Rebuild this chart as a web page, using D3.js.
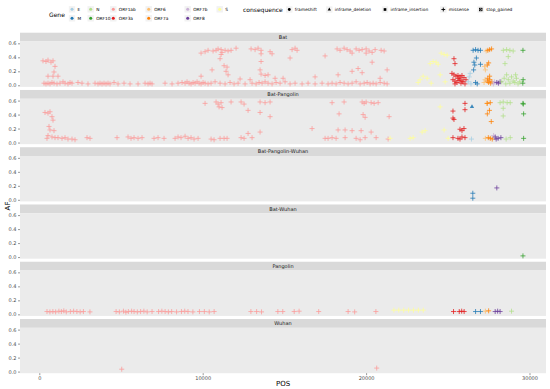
<!DOCTYPE html>
<html><head><meta charset="utf-8">
<script src="https://cdn.jsdelivr.net/npm/d3@7"></script>
<style>body{margin:0;background:#fff}svg{display:block}text{font-family:"DejaVu Sans",sans-serif}</style>
</head><body><svg id="c" width="550" height="389"></svg>
<script>
const facets = ["Bat","Bat-Pangolin","Bat-Pangolin-Wuhan","Bat-Wuhan","Pangolin","Wuhan"];
const genes = ["E","M","N","ORF10","ORF1ab","ORF3a","ORF6","ORF7a","ORF7b","ORF8","S"];
const geneColors = ["#A6CEE3","#1F78B4","#B2DF8A","#33A02C","#FB9A99","#E31A1C","#FDBF6F","#FF7F00","#CAB2D6","#6A3D9A","#FFFF99"];
const consequences = ["frameshift","inframe_deletion","inframe_insertion","missense","stop_gained"];
const xTicks = [0,10000,20000,30000];
const yTicks = [0,0.2,0.4,0.6];

// [POS, AF, gene, consequence?]  (consequence defaults to missense)
const batPts = [
 [226,0.35,"ORF1ab"],[410,0.34,"ORF1ab"],[533,0.36,"ORF1ab"],[716,0.33,"ORF1ab"],[839,0.35,"ORF1ab"],[961,0.27,"ORF1ab"],[900,0.19,"ORF1ab"],[839,0.13,"ORF1ab"],[533,0.13,"ORF1ab"],[1145,0.13,"ORF1ab"],
 [288,0.03,"ORF1ab"],[410,0.02,"ORF1ab"],[533,0.03,"ORF1ab"],[655,0.02,"ORF1ab"],[777,0.04,"ORF1ab"],[900,0.03,"ORF1ab"],[1084,0.02,"ORF1ab"],[1267,0.03,"ORF1ab"],[1451,0.05,"ORF1ab"],[1574,0.03,"ORF1ab"],[1757,0.02,"ORF1ab"],[1880,0.04,"ORF1ab"],[2002,0.03,"ORF1ab"],[2369,0.04,"ORF1ab"],[2614,0.03,"ORF1ab"],[2981,0.02,"ORF1ab"],[3410,0.03,"ORF1ab"],[3594,0.02,"ORF1ab"],[3716,0.03,"ORF1ab"],[3839,0.02,"ORF1ab"],[3961,0.03,"ORF1ab"],[4084,0.02,"ORF1ab"],[4206,0.03,"ORF1ab"],[4328,0.02,"ORF1ab"],[4573,0.04,"ORF1ab"],[4818,0.02,"ORF1ab"],[5185,0.03,"ORF1ab"],[5553,0.02,"ORF1ab"],[6043,0.02,"ORF1ab"],[6471,0.03,"ORF1ab"],[6655,0.02,"ORF1ab"],[6777,0.03,"ORF1ab"],[6900,0.02,"ORF1ab"],[7695,0.03,"ORF1ab"],[8124,0.02,"ORF1ab"],[8491,0.03,"ORF1ab"],[8736,0.04,"ORF1ab"],[8920,0.03,"ORF1ab"],[9042,0.05,"ORF1ab"],[9165,0.03,"ORF1ab"],[9287,0.02,"ORF1ab"],[9410,0.04,"ORF1ab"],[9532,0.03,"ORF1ab"],[9655,0.05,"ORF1ab"],[9777,0.03,"ORF1ab"],[9899,0.02,"ORF1ab"],[10022,0.04,"ORF1ab"],[10144,0.03,"ORF1ab"],[10328,0.02,"ORF1ab"],[10512,0.03,"ORF1ab"],[10756,0.05,"ORF1ab"],[11062,0.03,"ORF1ab"],[11368,0.02,"ORF1ab"],[11674,0.04,"ORF1ab"],[11919,0.02,"ORF1ab"],[12164,0.03,"ORF1ab"],[12593,0.02,"ORF1ab"],[13021,0.03,"ORF1ab"],[13266,0.02,"ORF1ab"],[13450,0.04,"ORF1ab"],[13633,0.03,"ORF1ab"],[13817,0.05,"ORF1ab"],[14001,0.03,"ORF1ab"],[14246,0.02,"ORF1ab"],[14491,0.04,"ORF1ab"],[14735,0.03,"ORF1ab"],[15041,0.05,"ORF1ab"],[15347,0.02,"ORF1ab"],[15653,0.03,"ORF1ab"],[16082,0.02,"ORF1ab"],[16449,0.03,"ORF1ab"],[16878,0.02,"ORF1ab"],[17306,0.03,"ORF1ab"],[17673,0.02,"ORF1ab"],[17918,0.03,"ORF1ab"],[18163,0.02,"ORF1ab"],[18408,0.04,"ORF1ab"],[18653,0.03,"ORF1ab"],[18898,0.02,"ORF1ab"],[19143,0.03,"ORF1ab"],[19388,0.05,"ORF1ab"],[19633,0.02,"ORF1ab"],[19878,0.03,"ORF1ab"],[20062,0.04,"ORF1ab"],[20245,0.02,"ORF1ab"],[20429,0.03,"ORF1ab"],[20613,0.02,"ORF1ab"],[20858,0.04,"ORF1ab"],[21103,0.03,"ORF1ab"],[21286,0.02,"ORF1ab"],
 [9899,0.46,"ORF1ab"],[10144,0.48,"ORF1ab"],[10328,0.50,"ORF1ab"],[10634,0.49,"ORF1ab"],[10818,0.50,"ORF1ab"],[10940,0.52,"ORF1ab"],[11124,0.51,"ORF1ab"],[11185,0.47,"ORF1ab"],[11368,0.50,"ORF1ab"],[11552,0.49,"ORF1ab"],[11736,0.50,"ORF1ab"],[11124,0.44,"ORF1ab"],[12042,0.53,"ORF1ab"],[11062,0.38,"ORF1ab"],
 [12960,0.52,"ORF1ab"],[13205,0.51,"ORF1ab"],[13388,0.53,"ORF1ab"],[13572,0.50,"ORF1ab"],[14123,0.48,"ORF1ab"],[14246,0.45,"ORF1ab"],[13572,0.45,"ORF1ab"],
 [15470,0.51,"ORF1ab"],[15653,0.53,"ORF1ab"],[15776,0.50,"ORF1ab"],[15347,0.39,"ORF1ab"],[17490,0.42,"ORF1ab"],
 [18225,0.52,"ORF1ab"],[18408,0.50,"ORF1ab"],[18653,0.53,"ORF1ab"],[18837,0.51,"ORF1ab"],[19021,0.49,"ORF1ab"],[19143,0.46,"ORF1ab"],[19388,0.52,"ORF1ab"],[19572,0.50,"ORF1ab"],[19756,0.51,"ORF1ab"],[20001,0.52,"ORF1ab"],[20184,0.49,"ORF1ab"],[20368,0.47,"ORF1ab"],[20552,0.51,"ORF1ab"],[20919,0.50,"ORF1ab"],[21103,0.49,"ORF1ab"],[20001,0.46,"ORF1ab"],[20368,0.33,"ORF1ab"],[21286,0.22,"ORF1ab"],
 [10573,0.22,"ORF1ab"],[9899,0.13,"ORF1ab"],[11307,0.28,"ORF1ab"],[11491,0.26,"ORF1ab"],[11429,0.20,"ORF1ab"],[11552,0.15,"ORF1ab"],[13572,0.34,"ORF1ab"],[13511,0.22,"ORF1ab"],[13572,0.16,"ORF1ab"],[13817,0.14,"ORF1ab"],[14001,0.15,"ORF1ab"],[14429,0.10,"ORF1ab"],[14919,0.10,"ORF1ab"],[16878,0.12,"ORF1ab"],[18286,0.15,"ORF1ab"],[19143,0.20,"ORF1ab"],[19510,0.24,"ORF1ab"],[19756,0.18,"ORF1ab"],[20858,0.10,"ORF1ab"],[12899,0.08,"ORF1ab"],[12287,0.09,"ORF1ab"],
 [23490,0.13,"S"],[23306,0.08,"S"],[23735,0.10,"S"],[23184,0.04,"S"],[23980,0.03,"S"],[24102,0.34,"S"],[23919,0.31,"S"],[24286,0.33,"S"],[24409,0.30,"S"],[24592,0.46,"S"],[24776,0.44,"S"],[24960,0.43,"S"],[24531,0.15,"S"],[24837,0.05,"S"],
 [25378,0.38,"ORF3a"],[25440,0.31,"ORF3a"],[25256,0.17,"ORF3a"],[25378,0.15,"ORF3a"],[25501,0.13,"ORF3a"],[25623,0.10,"ORF3a"],[25746,0.12,"ORF3a"],[25868,0.14,"ORF3a"],[25990,0.11,"ORF3a"],[25317,0.08,"ORF3a"],[25440,0.06,"ORF3a"],[25562,0.04,"ORF3a"],[25684,0.07,"ORF3a"],[25807,0.03,"ORF3a"],[25929,0.05,"ORF3a"],[26052,0.02,"ORF3a"],[25440,0.02,"ORF3a"],[25746,0.09,"ORF3a"],[25868,0.06,"ORF3a"],[26113,0.08,"ORF3a"],[25623,0.14,"ORF3a"],
 [26250,0.05,"E"],[26310,0.12,"E"],[26370,0.17,"E"],[26420,0.02,"E"],
 [26550,0.50,"M"],[26700,0.51,"M"],[26850,0.50,"M"],[27000,0.50,"M"],[26600,0.33,"M"],[26750,0.39,"M"],[27000,0.30,"M"],[26580,0.22,"M"],[26700,0.04,"M"],[26800,0.02,"M"],[26650,0.29,"M"],
 [27250,0.27,"ORF6"],[27300,0.22,"ORF6"],[27350,0.49,"ORF6"],[27280,0.08,"ORF6"],[27220,0.04,"ORF6"],
 [27450,0.50,"ORF7a"],[27560,0.51,"ORF7a"],[27680,0.52,"ORF7a"],[27500,0.32,"ORF7a"],[27420,0.29,"ORF7a"],[27450,0.10,"ORF7a"],[27560,0.08,"ORF7a"],[27500,0.04,"ORF7a"],[27620,0.03,"ORF7a"],[27420,0.06,"ORF7a"],[27700,0.05,"ORF7a"],[27560,0.13,"ORF7a"],
 [27790,0.02,"ORF7b"],[27850,0.05,"ORF7b"],
 [28000,0.04,"ORF8"],[28100,0.03,"ORF8"],[28200,0.05,"ORF8"],
 [28400,0.50,"N"],[28600,0.51,"N"],[28800,0.50,"N"],[29000,0.49,"N"],[28700,0.41,"N"],[28500,0.31,"N"],[28300,0.05,"N"],[28450,0.10,"N"],[28600,0.15,"N"],[28700,0.08,"N"],[28800,0.03,"N"],[28900,0.12,"N"],[29000,0.06,"N"],[29100,0.04,"N"],[29200,0.10,"N"],[29300,0.02,"N"],[29400,0.05,"N"],[28550,0.02,"N"],[29150,0.15,"N"],
 [29600,0.50,"ORF10"],[29610,0.08,"ORF10"],[29590,0.03,"ORF10"]
];
const batPangolinPts = [
 [349,0.43,"ORF1ab"],[533,0.42,"ORF1ab"],[655,0.44,"ORF1ab"],[777,0.37,"ORF1ab"],[839,0.32,"ORF1ab"],[594,0.23,"ORF1ab"],[655,0.18,"ORF1ab"],[900,0.17,"ORF1ab"],[533,0.10,"ORF1ab"],[471,0.06,"ORF1ab"],[777,0.08,"ORF1ab"],[961,0.07,"ORF1ab"],[1145,0.07,"ORF1ab"],[1390,0.06,"ORF1ab"],[1574,0.07,"ORF1ab"],[1757,0.05,"ORF1ab"],[2002,0.05,"ORF1ab"],[2186,0.04,"ORF1ab"],[2920,0.07,"ORF1ab"],[3104,0.06,"ORF1ab"],
 [4757,0.07,"ORF1ab"],[5430,0.08,"ORF1ab"],[5614,0.06,"ORF1ab"],[5798,0.07,"ORF1ab"],[6043,0.06,"ORF1ab"],[6288,0.07,"ORF1ab"],[7022,0.06,"ORF1ab"],[7267,0.07,"ORF1ab"],[7634,0.06,"ORF1ab"],[8308,0.06,"ORF1ab"],[8491,0.08,"ORF1ab"],[8675,0.07,"ORF1ab"],[8920,0.09,"ORF1ab"],[9104,0.06,"ORF1ab"],[9287,0.07,"ORF1ab"],[9471,0.05,"ORF1ab"],[9716,0.06,"ORF1ab"],[10512,0.05,"ORF1ab"],[10695,0.04,"ORF1ab"],[11062,0.06,"ORF1ab"],[11307,0.06,"ORF1ab"],[11491,0.06,"ORF1ab"],[12348,0.07,"ORF1ab"],[12532,0.06,"ORF1ab"],[13021,0.07,"ORF1ab"],[12777,0.13,"ORF1ab"],[13511,0.15,"ORF1ab"],
 [10144,0.56,"ORF1ab"],[10818,0.58,"ORF1ab"],[10940,0.55,"ORF1ab"],[11124,0.57,"ORF1ab"],[11001,0.51,"ORF1ab"],[11185,0.50,"ORF1ab"],[11736,0.58,"ORF1ab"],[12348,0.58,"ORF1ab"],[12532,0.55,"ORF1ab"],[12777,0.46,"ORF1ab"],[13511,0.58,"ORF1ab"],[13817,0.57,"ORF1ab"],[14123,0.58,"ORF1ab"],[13511,0.43,"ORF1ab"],[14123,0.37,"ORF1ab"],
 [16694,0.20,"ORF1ab"],
 [17490,0.06,"ORF1ab"],[17673,0.06,"ORF1ab"],[17918,0.07,"ORF1ab"],[18163,0.06,"ORF1ab"],[18347,0.41,"ORF1ab"],[17918,0.57,"ORF1ab"],[18653,0.58,"ORF1ab"],[18286,0.18,"ORF1ab"],[18715,0.18,"ORF1ab"],[19143,0.17,"ORF1ab"],[19694,0.17,"ORF1ab"],[19388,0.06,"ORF1ab"],[19633,0.04,"ORF1ab"],[19756,0.58,"ORF1ab"],[19878,0.56,"ORF1ab"],[20001,0.58,"ORF1ab"],[19817,0.40,"ORF1ab"],[19939,0.36,"ORF1ab"],[20307,0.57,"ORF1ab"],[20490,0.56,"ORF1ab"],[20736,0.57,"ORF1ab"],[20307,0.15,"ORF1ab"],[20613,0.07,"ORF1ab"],[19939,0.07,"ORF1ab"],[21409,0.37,"ORF1ab"],[21348,0.05,"ORF1ab"],[18715,0.07,"ORF1ab"],
 [21470,0.06,"S"],[22694,0.06,"S"],[22878,0.07,"S"],[23429,0.15,"S"],[23612,0.17,"S"],[24531,0.51,"S"],[24776,0.18,"S"],[25021,0.06,"S"],
 [26052,0.56,"ORF3a"],[26052,0.47,"ORF3a"],[25317,0.45,"ORF3a"],[25317,0.35,"ORF3a"],[25378,0.33,"ORF3a"],[25746,0.19,"ORF3a"],[25990,0.20,"ORF3a"],[25868,0.17,"ORF3a"],[25317,0.07,"ORF3a"],[25623,0.06,"ORF3a"],[25868,0.08,"ORF3a"],[26052,0.07,"ORF3a"],[25746,0.05,"ORF3a"],
 [26450,0.05,"E"],
 [26480,0.51,"M","inframe_deletion"],
 [27380,0.56,"ORF6"],[27300,0.06,"ORF6"],
 [27420,0.56,"ORF7a"],[27600,0.57,"ORF7a"],[27550,0.46,"ORF7a"],[27420,0.41,"ORF7a"],[27660,0.30,"ORF7a"],[27480,0.07,"ORF7a"],[27600,0.06,"ORF7a"],[27720,0.05,"ORF7a"],
 [27800,0.10,"ORF7b"],
 [27900,0.08,"ORF8"],[28080,0.06,"ORF8"],[28250,0.07,"ORF8"],[27960,0.05,"ORF8"],
 [28200,0.57,"N"],[28390,0.58,"N"],[28630,0.57,"N"],[28820,0.57,"N"],[28390,0.49,"N"],[28390,0.38,"N"],[28570,0.05,"N"],[28820,0.07,"N"],
 [29600,0.56,"ORF10"],[29620,0.55,"ORF10"],[29640,0.41,"ORF10"],[29640,0.06,"ORF10"]
];
const batPangolinWuhanPts = [
 [26530,0.094,"M"],[26530,0.023,"M"],[28000,0.17,"ORF8"]
];
const batWuhanPts = [
 [29600,0.017,"ORF10"]
];
const pangolinPts = [
 [471,0.04,"ORF1ab"],[650,0.035,"ORF1ab"],[830,0.04,"ORF1ab"],[1000,0.035,"ORF1ab"],[1200,0.045,"ORF1ab"],[1350,0.04,"ORF1ab"],[1500,0.05,"ORF1ab"],[1650,0.035,"ORF1ab"],[1900,0.04,"ORF1ab"],[2100,0.045,"ORF1ab"],[2300,0.04,"ORF1ab"],[2500,0.035,"ORF1ab"],[2700,0.04,"ORF1ab"],[3100,0.035,"ORF1ab"],
 [4700,0.04,"ORF1ab"],[4900,0.035,"ORF1ab"],[5150,0.045,"ORF1ab"],[5300,0.03,"ORF1ab"],[5450,0.04,"ORF1ab"],[5650,0.045,"ORF1ab"],[5800,0.04,"ORF1ab"],[6000,0.035,"ORF1ab"],[6200,0.04,"ORF1ab"],[6400,0.045,"ORF1ab"],[6600,0.035,"ORF1ab"],[6900,0.04,"ORF1ab"],[7300,0.04,"ORF1ab"],[7500,0.045,"ORF1ab"],[7700,0.04,"ORF1ab"],[7900,0.035,"ORF1ab"],[8100,0.04,"ORF1ab"],[8400,0.035,"ORF1ab"],[8700,0.04,"ORF1ab"],[8900,0.045,"ORF1ab"],[9100,0.04,"ORF1ab"],[9400,0.035,"ORF1ab"],[9800,0.04,"ORF1ab"],[10100,0.04,"ORF1ab"],[10400,0.035,"ORF1ab"],[10700,0.04,"ORF1ab"],
 [12950,0.04,"ORF1ab"],[13300,0.04,"ORF1ab"],[13600,0.035,"ORF1ab"],[14600,0.04,"ORF1ab"],[14900,0.04,"ORF1ab"],[15600,0.04,"ORF1ab"],[15900,0.045,"ORF1ab"],[17100,0.04,"ORF1ab"],[18900,0.04,"ORF1ab"],[19300,0.035,"ORF1ab"],[20600,0.04,"ORF1ab"],
 [21700,0.06,"S"],[22000,0.06,"S"],[22300,0.06,"S"],[22600,0.06,"S"],[22900,0.06,"S"],[23200,0.06,"S"],[23500,0.06,"S"],
 [25350,0.04,"ORF3a"],[25700,0.04,"ORF3a"],[25850,0.045,"ORF3a"],[26000,0.04,"ORF3a"],
 [26700,0.04,"M"],[27000,0.04,"M"],[27300,0.045,"ORF6"],[27500,0.05,"ORF7a"],[27900,0.04,"ORF8"],[28050,0.045,"ORF8"],[28200,0.04,"ORF8"],
 [28900,0.045,"N"]
];
const wuhanPts = [
 [5045,0.034,"ORF1ab"],[20650,0.05,"ORF1ab"]
];
const facetData = [batPts,batPangolinPts,batPangolinWuhanPts,batWuhanPts,pangolinPts,wuhanPts];

const svg = d3.select("#c");
const color = d3.scaleOrdinal(genes, geneColors);
const x = d3.scaleLinear().domain([-1181,31010]).range([20,546]);
const stripH = 8.8, panelH = 45.4, period = 57.26, top0 = 32.7;

function plusPath(s){return `M${-s},0H${s}M0,${-s}V${s}`;}
function drawShape(g, cons, col, s){
  if(cons==="missense"){
    g.append("path").attr("d",plusPath(s)).attr("stroke",col).attr("stroke-width",0.9).attr("fill","none");
  } else if(cons==="frameshift"){
    g.append("circle").attr("r",s*0.75).attr("fill",col);
  } else if(cons==="inframe_deletion"){
    g.append("path").attr("d",d3.symbol(d3.symbolTriangle, s*s*1.3)()).attr("fill",col);
  } else if(cons==="inframe_insertion"){
    g.append("rect").attr("x",-s*0.7).attr("y",-s*0.7).attr("width",s*1.4).attr("height",s*1.4).attr("fill",col);
  } else {
    g.append("rect").attr("x",-s*0.7).attr("y",-s*0.7).attr("width",s*1.4).attr("height",s*1.4).attr("fill","none").attr("stroke",col).attr("stroke-width",0.7);
    g.append("path").attr("d",`M${-s*0.7},${-s*0.7}L${s*0.7},${s*0.7}M${s*0.7},${-s*0.7}L${-s*0.7},${s*0.7}`).attr("stroke",col).attr("stroke-width",0.7);
  }
}

facets.forEach((f,i)=>{
  const st = top0 + i*period;
  const pt = st + stripH;
  const y = d3.scaleLinear().domain([-0.023,0.626]).range([pt+panelH, pt]);
  svg.append("rect").attr("x",20).attr("y",st).attr("width",526).attr("height",stripH).attr("fill","#D9D9D9");
  svg.append("text").attr("x",283).attr("y",st+stripH/2+1.8).attr("text-anchor","middle").attr("font-size",5).attr("fill","#1A1A1A").text(f);
  svg.append("rect").attr("x",20).attr("y",pt).attr("width",526).attr("height",panelH).attr("fill","#EBEBEB");
  const ya = svg.append("g").attr("transform","translate(20,0)").call(d3.axisLeft(y).tickValues(yTicks).tickFormat(d3.format(".1f")).tickSize(2).tickPadding(1.5));
  ya.select(".domain").remove();
  ya.selectAll("line").attr("stroke","#333").attr("stroke-width",0.5);
  ya.selectAll("text").attr("font-size",5).attr("fill","#4D4D4D").attr("font-family","DejaVu Sans");
  const pg = svg.append("g");
  facetData[i].forEach(d=>{
    const g = pg.append("g").attr("transform",`translate(${x(d[0])},${y(d[1])})`).attr("opacity",0.85);
    drawShape(g, d[3]||"missense", color(d[2]), 2.5);
  });
  if(i===facets.length-1){
    const xa = svg.append("g").attr("transform",`translate(0,${pt+panelH})`).call(d3.axisBottom(x).tickValues(xTicks).tickSize(2).tickPadding(1.5).tickFormat(d3.format("d")));
    xa.select(".domain").remove();
    xa.selectAll("line").attr("stroke","#333").attr("stroke-width",0.5);
    xa.selectAll("text").attr("font-size",5).attr("fill","#4D4D4D").attr("font-family","DejaVu Sans");
  }
});

svg.append("text").attr("x",283).attr("y",386).attr("text-anchor","middle").attr("font-size",7).attr("fill","#000").text("POS");
svg.append("text").attr("transform","translate(10,206) rotate(-90)").attr("text-anchor","middle").attr("font-size",7).attr("fill","#000").text("AF");

// Legend: Gene
svg.append("text").attr("x",49).attr("y",16.5).attr("font-size",6).attr("fill","#000").text("Gene");
const geneLegendX = [72,90.7,113.3,148.7,187.7,219.7];
const keyG = svg.append("g"), txtG = svg.append("g");
genes.forEach((gname,k)=>{
  const col = k<10 ? Math.floor(k/2) : 5;
  const row = k<10 ? k%2 : 0;
  const cx = geneLegendX[col], cy = 9.3 + row*9;
  keyG.append("rect").attr("x",cx-3.2).attr("y",cy-3.2).attr("width",6.4).attr("height",6.4).attr("fill","#F2F2F2");
  keyG.append("circle").attr("cx",cx).attr("cy",cy).attr("r",1.5).attr("fill",color(gname));
  txtG.append("text").attr("x",cx+5.5).attr("y",cy+1.7).attr("font-size",4.3).attr("fill","#000").text(gname);
});
svg.append("text").attr("x",243).attr("y",11.5).attr("font-size",6).attr("fill","#000").text("consequence");
const consX = [289.3,329.3,385,443.3,480.7];
consequences.forEach((c,k)=>{
  const cx = consX[k], cy = 9.5;
  keyG.append("rect").attr("x",cx-3.2).attr("y",cy-3.2).attr("width",6.4).attr("height",6.4).attr("fill","#F2F2F2");
  const g = keyG.append("g").attr("transform",`translate(${cx},${cy})`);
  drawShape(g, c, "#000", 1.9);
  txtG.append("text").attr("x",cx+5.5).attr("y",cy+1.7).attr("font-size",4.3).attr("fill","#000").text(c);
});
</script></body></html>
